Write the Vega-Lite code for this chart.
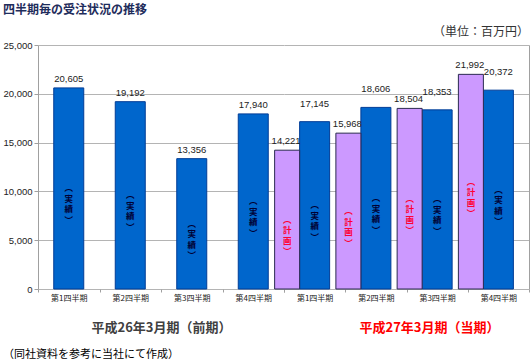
{
  "$schema": "https://vega.github.io/schema/vega-lite/v6.json",
  "padding": {"left": 2, "top": 4, "right": 0, "bottom": 0},
  "background": "white",
  "spacing": 0,
  "bounds": "flush",
  "title": {"text": "（同社資料を参考に当社にて作成）", "orient": "bottom", "anchor": "start", "frame": "bounds", "font": "Noto Sans CJK JP", "fontSize": 11, "fontWeight": "normal", "color": "#000000", "offset": 15},
  "datasets": {
    "orders": [
      {"period": "前期", "quarter": "第1四半期", "series": "実績", "value": 20605},
      {"period": "前期", "quarter": "第2四半期", "series": "実績", "value": 19192},
      {"period": "前期", "quarter": "第3四半期", "series": "実績", "value": 13356},
      {"period": "前期", "quarter": "第4四半期", "series": "実績", "value": 17940},
      {"period": "当期", "quarter": "第1四半期", "series": "計画", "value": 14221},
      {"period": "当期", "quarter": "第2四半期", "series": "計画", "value": 15968},
      {"period": "当期", "quarter": "第3四半期", "series": "計画", "value": 18504},
      {"period": "当期", "quarter": "第4四半期", "series": "計画", "value": 21992},
      {"period": "当期", "quarter": "第1四半期", "series": "実績", "value": 17145},
      {"period": "当期", "quarter": "第2四半期", "series": "実績", "value": 18606},
      {"period": "当期", "quarter": "第3四半期", "series": "実績", "value": 18353},
      {"period": "当期", "quarter": "第4四半期", "series": "実績", "value": 20372}
    ]
  },
  "resolve": {"scale": {"x": "independent", "y": "independent"}},
  "config": {
    "view": {"stroke": null},
    "axis": {"gridColor": "#b4b4b4", "gridWidth": 1, "domainColor": "#a0a0a0", "tickColor": "#a0a0a0", "labelColor": "#222222"}
  },
  "hconcat": [
    {
      "width": 246,
      "height": 244,
      "title": {"text": "四半期毎の受注状況の推移", "anchor": "start", "frame": "bounds", "font": "Noto Sans CJK JP", "fontSize": 12, "fontWeight": "bold", "color": "#1F2D5C", "offset": 23},
      "data": {"name": "orders"},
      "transform": [{"filter": "datum.period == '前期'"}],
      "resolve": {"scale": {"y": "independent"}},
      "layer": [
        {
          "mark": {"type": "bar", "width": 30, "color": "#0066CC", "stroke": "#003C96", "strokeWidth": 1},
          "encoding": {
            "x": {"field": "quarter", "type": "nominal", "sort": null, "scale": {"paddingInner": 0, "paddingOuter": 0},
              "axis": {"title": "平成26年3月期（前期）", "titleFont": "Noto Sans CJK JP", "titleFontSize": 13, "titleFontWeight": "bold", "titleColor": "#404040", "titlePadding": 19,
                "labelAngle": 0, "labelFont": "Noto Sans CJK JP", "labelFontSize": 8, "labelPadding": 2, "tickSize": 3, "tickBand": "extent", "domain": false}},
            "y": {"field": "value", "type": "quantitative", "scale": {"domain": [0, 25000]},
              "axis": {"title": null, "orient": "left", "values": [0, 5000, 10000, 15000, 20000, 25000], "format": ",.0f", "labelFont": "Liberation Sans", "labelFontSize": 9.5, "labelPadding": 2, "tickSize": 4, "grid": true, "domain": true}}
          }
        },
        {
          "mark": {"type": "text", "baseline": "bottom", "dy": -4, "font": "Liberation Sans", "fontSize": 9.5, "color": "#222222"},
          "encoding": {
            "x": {"field": "quarter", "type": "nominal", "sort": null},
            "y": {"field": "value", "type": "quantitative", "scale": {"domain": [0, 25000]}, "axis": null},
            "text": {"field": "value", "type": "quantitative", "format": ","}
          }
        },
        {
          "mark": {"type": "text", "baseline": "middle", "font": "Noto Sans CJK JP", "fontSize": 8.5, "fontWeight": "bold", "lineHeight": 10.5, "color": "#000033"},
          "encoding": {
            "x": {"field": "quarter", "type": "nominal", "sort": null},
            "y": {"field": "value", "type": "quantitative", "scale": {"domain": [0, 50000]}, "axis": null},
            "text": {"value": ["︵", "実", "績", "︶"]}
          }
        }
      ]
    },
    {
      "width": 245,
      "height": 244,
      "title": {"text": "（単位：百万円）", "anchor": "end", "frame": "group", "font": "Noto Sans CJK JP", "fontSize": 12, "fontWeight": "normal", "color": "#333333", "offset": 6},
      "data": {"name": "orders"},
      "transform": [{"filter": "datum.period == '当期'"}],
      "resolve": {"scale": {"y": "independent"}},
      "layer": [
        {
          "transform": [{"filter": "datum.series == '実績'"}],
          "mark": {"type": "bar", "width": 30, "color": "#0066CC", "stroke": "#003C96", "strokeWidth": 1},
          "encoding": {
            "x": {"field": "quarter", "type": "nominal", "sort": null, "scale": {"paddingInner": 0, "paddingOuter": 0},
              "axis": {"title": "平成27年3月期（当期）", "titleFont": "Noto Sans CJK JP", "titleFontSize": 13, "titleFontWeight": "bold", "titleColor": "#FF0000", "titlePadding": 19, "titleX": 145,
                "labelAngle": 0, "labelFont": "Noto Sans CJK JP", "labelFontSize": 8, "labelPadding": 2, "tickSize": 3, "tickBand": "extent", "domain": false}},
            "y": {"field": "value", "type": "quantitative", "scale": {"domain": [0, 25000]},
              "axis": {"title": null, "orient": "right", "values": [0, 5000, 10000, 15000, 20000, 25000], "labels": false, "ticks": false, "grid": true, "domain": true}}
          }
        },
        {
          "transform": [{"filter": "datum.series == '計画'"}],
          "mark": {"type": "bar", "width": 25, "xOffset": -27.5, "color": "#CC99FF", "stroke": "#2A2A50", "strokeWidth": 1},
          "encoding": {
            "x": {"field": "quarter", "type": "nominal", "sort": null},
            "y": {"field": "value", "type": "quantitative", "scale": {"domain": [0, 25000]}, "axis": null}
          }
        },
        {
          "transform": [{"filter": "datum.series == '実績'"}],
          "mark": {"type": "text", "baseline": "bottom", "dy": -13, "font": "Liberation Sans", "fontSize": 9.5, "color": "#222222"},
          "encoding": {
            "x": {"field": "quarter", "type": "nominal", "sort": null},
            "y": {"field": "value", "type": "quantitative", "scale": {"domain": [0, 25000]}, "axis": null},
            "text": {"field": "value", "type": "quantitative", "format": ","}
          }
        },
        {
          "transform": [{"filter": "datum.series == '計画'"}],
          "mark": {"type": "text", "baseline": "bottom", "dy": -4, "xOffset": -28.5, "font": "Liberation Sans", "fontSize": 9.5, "color": "#222222"},
          "encoding": {
            "x": {"field": "quarter", "type": "nominal", "sort": null},
            "y": {"field": "value", "type": "quantitative", "scale": {"domain": [0, 25000]}, "axis": null},
            "text": {"field": "value", "type": "quantitative", "format": ","}
          }
        },
        {
          "transform": [{"filter": "datum.series == '実績'"}],
          "mark": {"type": "text", "baseline": "middle", "font": "Noto Sans CJK JP", "fontSize": 8.5, "fontWeight": "bold", "lineHeight": 10.5, "color": "#000033"},
          "encoding": {
            "x": {"field": "quarter", "type": "nominal", "sort": null},
            "y": {"field": "value", "type": "quantitative", "scale": {"domain": [0, 50000]}, "axis": null},
            "text": {"value": ["︵", "実", "績", "︶"]}
          }
        },
        {
          "transform": [{"filter": "datum.series == '計画'"}],
          "mark": {"type": "text", "baseline": "middle", "xOffset": -27.5, "font": "Noto Sans CJK JP", "fontSize": 8.5, "fontWeight": "bold", "lineHeight": 10.5, "color": "#FF0033"},
          "encoding": {
            "x": {"field": "quarter", "type": "nominal", "sort": null},
            "y": {"field": "value", "type": "quantitative", "scale": {"domain": [0, 50000]}, "axis": null},
            "text": {"value": ["︵", "計", "画", "︶"]}
          }
        }
      ]
    }
  ]
}
